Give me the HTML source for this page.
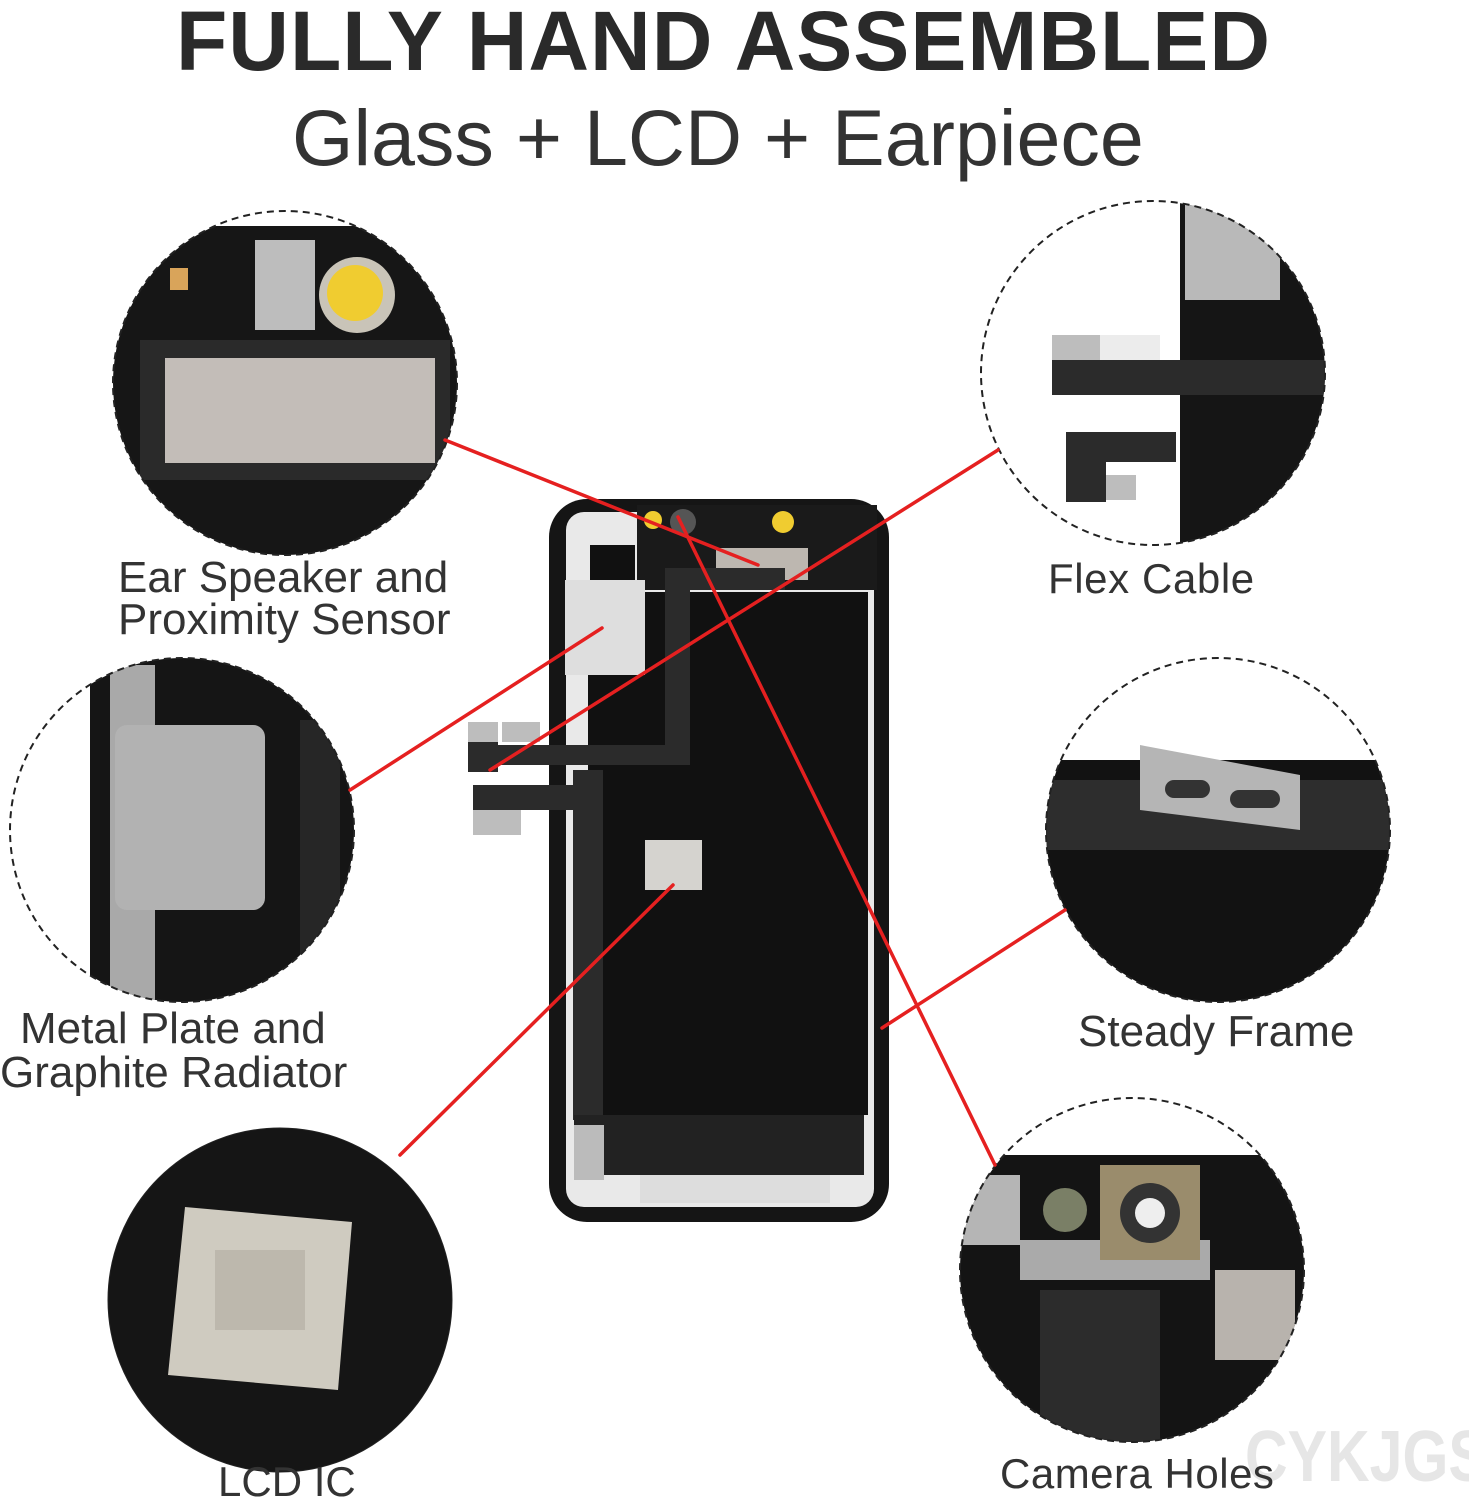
<!DOCTYPE html>
<html><head><meta charset="utf-8"><style>
html,body{margin:0;padding:0;background:#fff;}
body{width:1469px;height:1500px;position:relative;overflow:hidden;font-family:"Liberation Sans","DejaVu Sans",sans-serif;}
.t{position:absolute;white-space:nowrap;color:#333;}
</style></head><body>
<svg width="1469" height="1500" style="position:absolute;left:0;top:0" xmlns="http://www.w3.org/2000/svg">
<defs>
<clipPath id="c1"><circle cx="285" cy="383" r="172"/></clipPath>
<clipPath id="c2"><circle cx="1153" cy="373" r="172"/></clipPath>
<clipPath id="c3"><circle cx="182" cy="830" r="172"/></clipPath>
<clipPath id="c4"><circle cx="1218" cy="830" r="172"/></clipPath>
<clipPath id="c5"><circle cx="280" cy="1300" r="172"/></clipPath>
<clipPath id="c6"><circle cx="1132" cy="1270" r="172"/></clipPath>
</defs>
<g clip-path="url(#c1)">
<rect x="100" y="226" width="380" height="340" fill="#161616"/>
<rect x="255" y="240" width="60" height="90" fill="#bdbdbd"/>
<circle cx="357" cy="295" r="38" fill="#c9c4b8"/>
<circle cx="355" cy="293" r="28" fill="#f0cc30"/>
<rect x="140" y="340" width="310" height="140" fill="#2a2a2a"/>
<rect x="165" y="358" width="270" height="105" fill="#c3bdb8"/>
<rect x="170" y="268" width="18" height="22" fill="#d9a45a"/>
</g>
<circle cx="285" cy="383" r="172" fill="none" stroke="#222" stroke-width="2" stroke-dasharray="7,5"/>
<g clip-path="url(#c2)">
<rect x="1180" y="190" width="160" height="370" fill="#151515"/>
<rect x="1185" y="205" width="95" height="95" fill="#b9b9b9"/>
<rect x="1052" y="335" width="60" height="55" fill="#bdbdbd"/>
<rect x="1100" y="335" width="60" height="50" fill="#ececec"/>
<rect x="1052" y="360" width="280" height="35" fill="#2b2b2b"/>
<rect x="1066" y="432" width="110" height="30" fill="#2b2b2b"/>
<rect x="1066" y="475" width="70" height="25" fill="#bdbdbd"/>
<rect x="1066" y="432" width="40" height="70" fill="#2b2b2b"/>
</g>
<circle cx="1153" cy="373" r="172" fill="none" stroke="#222" stroke-width="2" stroke-dasharray="7,5"/>
<g clip-path="url(#c3)">
<rect x="90" y="655" width="270" height="360" fill="#151515"/>
<rect x="110" y="665" width="45" height="340" fill="#a9a9a9"/>
<rect x="115" y="725" width="150" height="185" rx="12" fill="#b2b2b2"/>
<rect x="300" y="720" width="40" height="250" fill="#262626"/>
</g>
<circle cx="182" cy="830" r="172" fill="none" stroke="#222" stroke-width="2" stroke-dasharray="7,5"/>
<g clip-path="url(#c4)">
<rect x="1040" y="760" width="360" height="250" fill="#121212"/>
<rect x="1040" y="780" width="360" height="70" fill="#2d2d2d"/>
<polygon points="1140,745 1300,775 1300,830 1140,810" fill="#b5b5b5"/>
<rect x="1165" y="780" width="45" height="18" rx="9" fill="#333"/>
<rect x="1230" y="790" width="50" height="18" rx="9" fill="#333"/>
</g>
<circle cx="1218" cy="830" r="172" fill="none" stroke="#222" stroke-width="2" stroke-dasharray="7,5"/>
<g clip-path="url(#c5)">
<rect x="100" y="1120" width="360" height="360" fill="#151515"/>
<polygon points="185,1207 352,1222 338,1390 168,1375" fill="#cfcbc0"/>
<rect x="215" y="1250" width="90" height="80" fill="#bdb8ad"/>
</g>
<circle cx="280" cy="1300" r="172" fill="none" stroke="#222" stroke-width="1" />
<g clip-path="url(#c6)">
<rect x="950" y="1155" width="370" height="300" fill="#141414"/>
<rect x="960" y="1175" width="60" height="70" fill="#b5b5b5"/>
<rect x="1020" y="1240" width="190" height="40" fill="#aaa"/>
<circle cx="1065" cy="1210" r="22" fill="#7a7f66"/>
<rect x="1100" y="1165" width="100" height="95" fill="#9a8c6c"/>
<circle cx="1150" cy="1213" r="30" fill="#333"/>
<circle cx="1150" cy="1213" r="15" fill="#eee"/>
<rect x="1215" y="1270" width="80" height="90" fill="#b8b3ad"/>
<rect x="1040" y="1290" width="120" height="160" fill="#2c2c2c"/>
</g>
<circle cx="1132" cy="1270" r="172" fill="none" stroke="#222" stroke-width="2" stroke-dasharray="7,5"/>
<rect x="549" y="499" width="340" height="723" rx="38" fill="#151515"/>
<rect x="566" y="512" width="308" height="695" rx="18" fill="#e9e9e9"/>
<rect x="588" y="592" width="280" height="523" fill="#111"/>
<rect x="637" y="505" width="240" height="85" fill="#1a1a1a"/>
<rect x="716" y="548" width="92" height="32" fill="#bdb7b0"/>
<circle cx="783" cy="522" r="11" fill="#f0cc30"/>
<circle cx="653" cy="520" r="9" fill="#f0cc30"/>
<circle cx="683" cy="522" r="13" fill="#555"/>
<rect x="590" y="545" width="45" height="35" fill="#111"/>
<rect x="565" y="580" width="80" height="95" fill="#dedede"/>
<rect x="590" y="675" width="50" height="30" fill="#111"/>
<rect x="665" y="568" width="25" height="195" fill="#2b2b2b"/>
<rect x="665" y="568" width="120" height="22" fill="#2b2b2b"/>
<rect x="468" y="745" width="222" height="20" fill="#2b2b2b"/>
<rect x="468" y="722" width="30" height="50" fill="#2b2b2b"/>
<rect x="468" y="722" width="30" height="20" fill="#bdbdbd"/>
<rect x="502" y="722" width="38" height="20" fill="#bdbdbd"/>
<rect x="473" y="785" width="125" height="25" fill="#2b2b2b"/>
<rect x="473" y="810" width="48" height="25" fill="#bdbdbd"/>
<rect x="573" y="770" width="30" height="350" fill="#2b2b2b"/>
<rect x="645" y="840" width="57" height="50" fill="#d5d3cf"/>
<rect x="574" y="1115" width="290" height="60" fill="#222"/>
<rect x="574" y="1125" width="30" height="55" fill="#bbb"/>
<rect x="640" y="1175" width="190" height="28" fill="#ddd"/>
<g stroke="#e52020" stroke-width="3.5" stroke-linecap="round">
<line x1="445" y1="440" x2="758" y2="565"/>
<line x1="998" y1="450" x2="490" y2="770"/>
<line x1="350" y1="790" x2="602" y2="628"/>
<line x1="1065" y1="910" x2="882" y2="1028"/>
<line x1="400" y1="1155" x2="673" y2="885"/>
<line x1="678" y1="517" x2="995" y2="1165"/>
</g>
</svg>
<div class="t" style="left:176px;top:-7px;font-size:84px;font-weight:bold;color:#2a2a2a;letter-spacing:1px;">FULLY HAND ASSEMBLED</div>
<div class="t" style="left:292px;top:92px;font-size:79px;">Glass + LCD + Earpiece</div>
<div class="t" style="left:118px;top:557px;font-size:44px;line-height:42px;">Ear Speaker and<br>Proximity Sensor</div>
<div class="t" style="left:1048px;top:555px;font-size:42px;letter-spacing:0.6px;">Flex Cable</div>
<div class="t" style="left:20px;top:1007px;font-size:44px;line-height:44px;">Metal Plate and</div>
<div class="t" style="left:0px;top:1051px;font-size:44px;line-height:44px;">Graphite Radiator</div>
<div class="t" style="left:1078px;top:1007px;font-size:44px;">Steady Frame</div>
<div class="t" style="left:218px;top:1458px;font-size:42px;">LCD IC</div>
<div class="t" style="left:1245px;top:1416px;font-size:72px;font-weight:bold;color:#e6e6e6;font-family:'Liberation Sans Narrow','Liberation Sans',sans-serif;transform:scaleX(0.82);transform-origin:left top;">CYKJGS</div>
<div class="t" style="left:1000px;top:1450px;font-size:42px;letter-spacing:0.5px;">Camera Holes</div>
</body></html>
